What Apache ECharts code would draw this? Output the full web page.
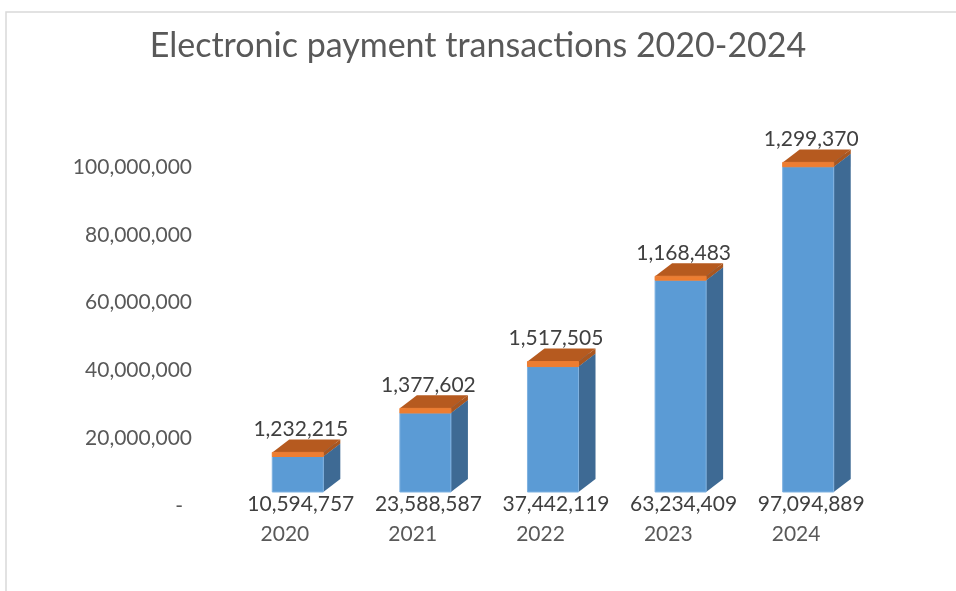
<!DOCTYPE html>
<html>
<head>
<meta charset="utf-8">
<title>Electronic payment transactions 2020-2024</title>
<script src="https://cdn.jsdelivr.net/npm/echarts@6/dist/echarts.min.js"></script>
<style>
  html, body { margin: 0; padding: 0; background: #ffffff; }
  #chart { width: 956px; height: 591px; }
</style>
</head>
<body>
<div id="chart"></div>
<script>
// Yearly categories
const categories = ['2020', '2021', '2022', '2023', '2024'];
// Lower (blue) segment of each column
const baseValues = [10594757, 23588587, 37442119, 63234409, 97094889];
// Upper (orange) segment stacked on top
const topValues = [1232215, 1377602, 1517505, 1168483, 1299370];
// Value-axis ticks
const yTicks = [0, 20000000, 40000000, 60000000, 80000000, 100000000];

const FONT = 'Lato, "Open Sans", sans-serif';
const fmt = v => v.toLocaleString('en-US');

// Pseudo-3D box: front face, right side face and top face
const DEPTH_X = 17, DEPTH_Y = 13;
function makeBoxRenderer(colors, labelMode) {
  return function (params, api) {
    const i = api.value(0);
    const lo = api.value(1);
    const hi = api.value(2);
    const pLo = api.coord([i, lo]);
    const pHi = api.coord([i, hi]);
    const w = api.size([1, 0])[0] * 0.4;
    const x0 = pLo[0] - w / 2, x1 = pLo[0] + w / 2;
    const yb = pLo[1], yt = pHi[1];
    const children = [
      {
        type: 'polygon',
        shape: { points: [[x1, yb], [x1, yt], [x1 + DEPTH_X, yt - DEPTH_Y], [x1 + DEPTH_X, yb - DEPTH_Y]] },
        style: { fill: colors.side }
      },
      {
        type: 'polygon',
        shape: { points: [[x0, yt], [x1, yt], [x1 + DEPTH_X, yt - DEPTH_Y], [x0 + DEPTH_X, yt - DEPTH_Y]] },
        style: { fill: colors.top }
      },
      {
        type: 'rect',
        shape: { x: x0, y: yt, width: w, height: yb - yt },
        style: { fill: colors.front, stroke: colors.edge, lineWidth: 1 }
      }
    ];
    const amount = hi - lo;
    const labelY = labelMode === 'below' ? yb + 12 : yt - DEPTH_Y - 10;
    children.push({
      type: 'text',
      style: {
        text: fmt(amount), x: pLo[0] + 3, y: labelY,
        align: 'center', verticalAlign: 'middle',
        font: '21px ' + FONT, fill: '#404040'
      }
    });
    return { type: 'group', children: children };
  };
}

const baseData = categories.map((c, i) => [i, 0, baseValues[i]]);
const topData = categories.map((c, i) => [i, baseValues[i], baseValues[i] + topValues[i]]);

const chart = echarts.init(document.getElementById('chart'), null, { renderer: 'canvas' });
chart.setOption({
  backgroundColor: '#ffffff',
  animation: false,
  title: {
    text: 'Electronic payment transactions 2020-2024',
    left: 'center',
    top: 24,
    textStyle: { fontFamily: FONT, fontSize: 34, fontWeight: 'normal', color: '#595959' }
  },
  graphic: [{
    type: 'rect',
    shape: { x: 6, y: 12, width: 1000, height: 700 },
    style: { fill: 'none', stroke: '#d9d9d9', lineWidth: 1.5 },
    silent: true
  }],
  grid: [
    { left: 221, right: 96, top: 167, bottom: 85 },
    { left: 234, right: 84, top: 157, bottom: 99 }
  ],
  xAxis: [
    {
      gridIndex: 0, type: 'category', data: categories,
      axisLine: { show: false }, axisTick: { show: false },
      axisLabel: { margin: 18, fontFamily: FONT, fontSize: 21, color: '#595959' }
    },
    {
      gridIndex: 1, type: 'category', data: categories, show: false
    }
  ],
  yAxis: [
    {
      gridIndex: 0, type: 'value', min: yTicks[0], max: yTicks[yTicks.length - 1],
      interval: yTicks[1] - yTicks[0],
      splitLine: { show: false }, axisLine: { show: false }, axisTick: { show: false },
      axisLabel: {
        margin: 29, fontFamily: FONT, fontSize: 21, color: '#595959',
        formatter: v => v === 0 ? '{dash|-}' : fmt(v),
        rich: { dash: { fontFamily: FONT, fontSize: 21, color: '#595959', padding: [0, 9, 0, 0] } }
      }
    },
    {
      gridIndex: 1, type: 'value', min: yTicks[0], max: yTicks[yTicks.length - 1], show: false
    }
  ],
  series: [
    {
      type: 'custom', name: 'Base', xAxisIndex: 1, yAxisIndex: 1,
      renderItem: makeBoxRenderer({ front: '#5b9bd5', side: '#3e6a94', top: '#4f86b8', edge: '#7fb1e0' }, 'below'),
      encode: { x: 0, y: [1, 2] },
      data: baseData
    },
    {
      type: 'custom', name: 'Top', xAxisIndex: 1, yAxisIndex: 1,
      renderItem: makeBoxRenderer({ front: '#ed7d31', side: '#a9561f', top: '#b65a1f', edge: '#ed7d31' }, 'above'),
      encode: { x: 0, y: [1, 2] },
      data: topData
    }
  ]
});
</script>
</body>
</html>
